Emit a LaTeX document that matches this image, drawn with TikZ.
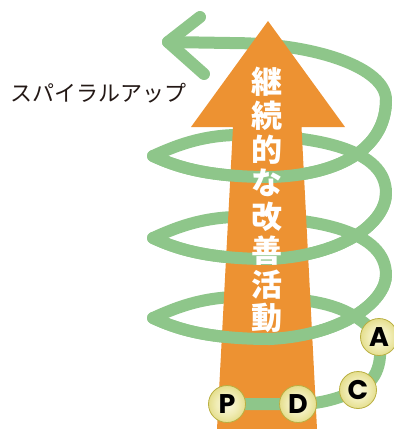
\documentclass[tikz,border=0pt]{standalone}
\usepackage{fontspec}
\newfontfamily\jpfont{Noto Sans CJK JP}
\newfontfamily\pdcafont{Poppins}
\definecolor{arroworange}{RGB}{237,146,50}
\definecolor{spiralgreen}{RGB}{142,198,138}
\definecolor{labelink}{RGB}{35,24,21}
\definecolor{ballA}{RGB}{250,248,225}
\definecolor{ballB}{RGB}{240,236,180}
\definecolor{ballC}{RGB}{225,218,130}
\definecolor{ballD}{RGB}{205,196,90}
\definecolor{ballE}{RGB}{185,175,65}
\definecolor{ballF}{RGB}{160,150,50}
\pgfdeclareradialshading{pdcaball}{\pgfpoint{0bp}{0bp}}{color(0bp)=(ballA); color(15bp)=(ballB); color(28bp)=(ballC); color(38bp)=(ballD); color(46bp)=(ballE); color(50bp)=(ballF)}
\begin{document}
\begin{tikzpicture}[x=1pt,y=-1pt,
  spiral/.style={draw=spiralgreen, line width=12pt, line cap=round, line join=round},
  ball/.style={circle, minimum size=37pt, inner sep=0pt, shading=pdcaball, draw=ballE, line width=0.8pt, font=\pdcafont\bfseries\fontsize{27}{27}\selectfont, text=black},
  kanji/.style={font=\jpfont\bfseries\fontsize{31}{31}\selectfont, text=white, inner sep=0pt},
  label/.style={font=\jpfont\fontsize{22}{22}\selectfont, text=labelink, inner sep=0pt}]
\useasboundingbox (0,0) rectangle (394,429);
\coordinate (pP) at (227,404);
\coordinate (pD) at (298,404);
\coordinate (pC) at (358,390);
\coordinate (pA) at (379,337);
\coordinate (apex) at (168,42);
% back spiral
\draw[spiral] (200,17) -- (apex) -- (204,74);
\draw[spiral] (apex) -- (230,43) .. controls (316,43) and (386,68) .. (386,100)
  .. controls (386,145) and (345,175) .. (270,177)
  .. controls (205,177) and (175,166) .. (153,156)
  .. controls (175,146) and (200,136) .. (235,135)
  .. controls (320,135) and (386,150) .. (386,193)
  .. controls (386,222) and (345,255) .. (270,259)
  .. controls (205,259) and (175,248) .. (153,238)
  .. controls (175,228) and (200,218) .. (235,217)
  .. controls (320,217) and (386,232) .. (386,275)
  .. controls (386,300) and (345,335) .. (270,339)
  .. controls (205,339) and (175,328) .. (153,318)
  .. controls (175,308) and (200,298) .. (235,297)
  .. controls (320,297) and (350,305) .. (pA);
% arrow
\fill[arroworange] (268,21) -- (345,127) -- (301.5,127) -- (317,429) -- (217,429) -- (233,127) -- (191,127) -- cycle;
% front arcs
\draw[spiral] (386,100) .. controls (386,145) and (345,175) .. (270,177) .. controls (205,177) and (175,166) .. (153,156);
\draw[spiral] (386,193) .. controls (386,222) and (345,255) .. (270,259) .. controls (205,259) and (175,248) .. (153,238);
\draw[spiral] (386,275) .. controls (386,300) and (345,335) .. (270,339) .. controls (205,339) and (175,328) .. (153,318);
\draw[spiral] (pA) .. controls (384,368) and (373,383) .. (pC) .. controls (335,400) and (318,404) .. (pD) -- (pP);
% text on arrow
\foreach \ch [count=\i from 0] in {継,続,的,な,改,善,活,動}
  \node[kanji] (k\i) at (267,82+33.7*\i) {\ch};
% PDCA balls
\node[ball] (P) at (pP) {P};
\node[ball] (D) at (pD) {D};
\node[ball] (C) at (pC) {C};
\node[ball] (A) at (pA) {A};
\node[label] (lbl) at (98.5,93) {スパイラルアップ};
\end{tikzpicture}
\end{document}
